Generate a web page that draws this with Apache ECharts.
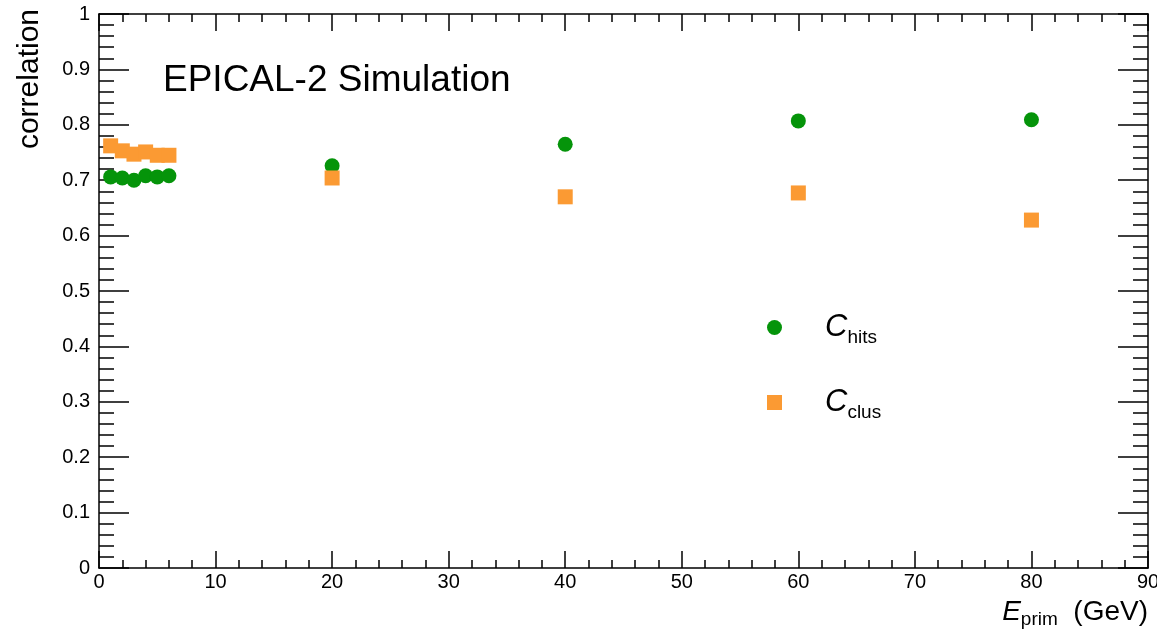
<!DOCTYPE html>
<html>
<head>
<meta charset="utf-8">
<script src="https://cdn.jsdelivr.net/npm/echarts@6/dist/echarts.min.js"></script>
<style>
  html, body { margin: 0; padding: 0; background: #fff; }
  #chart { width: 1157px; height: 633px; }
</style>
</head>
<body>
<div id="chart"></div>
<script>
// beam energies (GeV)
var energies = [1, 2, 3, 4, 5, 6, 20, 40, 60, 80];
// correlation values
var hitsCorr = [0.706, 0.704, 0.700, 0.708, 0.706, 0.708, 0.726, 0.765, 0.807, 0.809];
var clusCorr = [0.762, 0.753, 0.747, 0.751, 0.745, 0.745, 0.704, 0.670, 0.677, 0.628];

var chart = echarts.init(document.getElementById('chart'));

var font = 'Liberation Sans, Arial, sans-serif';
var lineStyle = { color: '#000', width: 1.5 };

function pairs(xs, ys) {
  return xs.map(function (x, i) { return [x, ys[i]]; });
}

// ROOT style: ticks on all four sides, pointing inwards
function xAx(pos, showLabel) {
  return {
    type: 'value', position: pos, min: 0, max: 90, interval: 10,
    axisLine: { show: true, onZero: false, lineStyle: lineStyle },
    axisTick: { show: true, inside: true, length: 17, lineStyle: lineStyle },
    minorTick: { show: true, splitNumber: 5, length: 8, lineStyle: lineStyle },
    axisLabel: { show: showLabel, margin: 4, color: '#000', fontFamily: font, fontSize: 20 },
    splitLine: { show: false }
  };
}
function yAx(pos, showLabel) {
  return {
    type: 'value', position: pos, min: 0, max: 1, interval: 0.1,
    axisLine: { show: true, onZero: false, lineStyle: lineStyle },
    axisTick: { show: true, inside: true, length: 30, lineStyle: lineStyle },
    minorTick: { show: true, splitNumber: 5, length: 15, lineStyle: lineStyle },
    axisLabel: {
      show: showLabel, margin: 9, color: '#000', fontFamily: font, fontSize: 20,
      formatter: function (v) { return String(+v.toFixed(1)); }
    },
    splitLine: { show: false }
  };
}

var xBottom = xAx('bottom', true);
xBottom.name = '{e|E}{sub|prim}{t|  (GeV)}';
xBottom.nameLocation = 'end';
xBottom.nameGap = 0;
xBottom.nameTextStyle = {
  align: 'right', verticalAlign: 'top', padding: [28, 0, 0, 0],
  rich: {
    e: { fontFamily: font, fontStyle: 'italic', fontSize: 28, color: '#000' },
    sub: { fontFamily: font, fontSize: 19, color: '#000', padding: [14, 0, 0, 0] },
    t: { fontFamily: font, fontSize: 28, color: '#000' }
  }
};

var legendRich = {
  c: { fontFamily: font, fontStyle: 'italic', fontSize: 31, color: '#000' },
  sub: { fontFamily: font, fontSize: 19, color: '#000', padding: [20, 0, 0, 0] }
};

var option = {
  animation: false,
  backgroundColor: '#fff',
  grid: { left: 99, right: 9, top: 14, bottom: 65, containLabel: false, outerBoundsMode: 'none' },
  xAxis: [xBottom, xAx('top', false)],
  yAxis: [yAx('left', true), yAx('right', false)],
  legend: {
    orient: 'vertical',
    left: 762, top: 307,
    itemGap: 40,
    itemWidth: 15, itemHeight: 15,
    data: [
      { name: 'hits', icon: 'circle' },
      { name: 'clus', icon: 'rect' }
    ],
    formatter: function (n) { return '{c|C}{sub|' + n + '}'; },
    textStyle: { padding: [0, 0, 0, 38], rich: legendRich }
  },
  graphic: [
    {
      type: 'text', x: 163, y: 81,
      style: {
        text: 'EPICAL-2 Simulation', fontFamily: font, fontSize: 37,
        fill: '#000', verticalAlign: 'middle'
      }
    },
    {
      type: 'text', x: 30, y: 9, rotation: Math.PI / 2,
      style: {
        text: 'correlation', fontFamily: font, fontSize: 30,
        fill: '#000', align: 'right', verticalAlign: 'middle'
      }
    }
  ],
  series: [
    {
      name: 'hits', type: 'scatter', symbol: 'circle', symbolSize: 15,
      itemStyle: { color: '#05940a', opacity: 1 },
      data: pairs(energies, hitsCorr)
    },
    {
      name: 'clus', type: 'scatter', symbol: 'rect', symbolSize: 15,
      itemStyle: { color: '#fb9a33', opacity: 1 },
      data: pairs(energies, clusCorr)
    }
  ]
};

chart.setOption(option);
</script>
</body>
</html>
